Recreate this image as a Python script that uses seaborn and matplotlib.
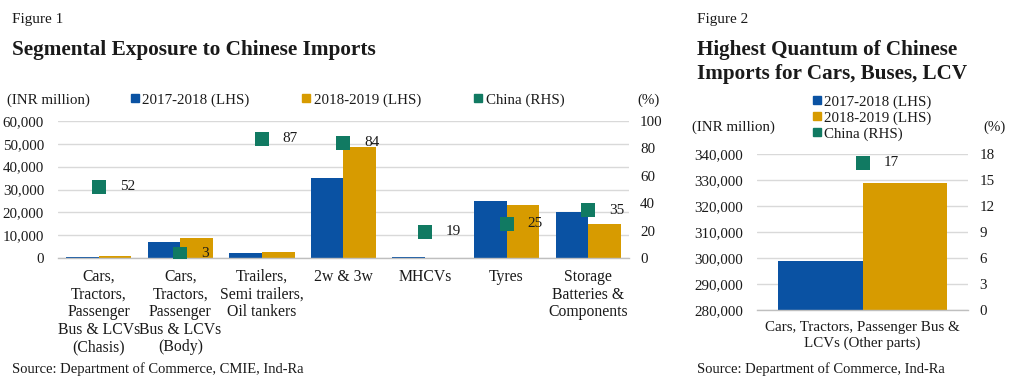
import matplotlib
matplotlib.use("Agg")
import matplotlib.pyplot as plt
from matplotlib.lines import Line2D
from matplotlib.ticker import FuncFormatter, MultipleLocator
import numpy as np
import pandas as pd
import seaborn as sns

# Figure 1 data
segments = [
    "Cars,\nTractors,\nPassenger\nBus & LCVs\n(Chasis)",
    "Cars,\nTractors,\nPassenger\nBus & LCVs\n(Body)",
    "Trailers,\nSemi trailers,\nOil tankers",
    "2w & 3w",
    "MHCVs",
    "Tyres",
    "Storage\nBatteries &\nComponents",
]
imports_fy18 = [300, 6900, 2000, 35000, 300, 25000, 20000]
imports_fy19 = [800, 8600, 2500, 48500, 200, 23000, 15000]
china_share = [52, 3, 87, 84, 19, 25, 35]

# Figure 2 data
other_parts = ["Cars, Tractors, Passenger Bus &\nLCVs (Other parts)"]
other_fy18 = [299000]
other_fy19 = [329000]
other_china = [17]

years = ["2017-2018 (LHS)", "2018-2019 (LHS)"]
china_label = "China (RHS)"

BLUE = "#0a52a3"
ORANGE = "#d79b00"
GREEN = "#117a62"
GRID = "#d9d9d9"
TXT = "#1a1a1a"

sns.set_theme(style="white")
plt.rcParams["font.family"] = ["Liberation Serif", "DejaVu Serif"]
plt.rcParams["font.size"] = 10.5
plt.rcParams["text.color"] = TXT


def long_table(cats, a, b):
    return pd.DataFrame({
        "segment": cats * 2,
        "value": a + b,
        "year": [years[0]] * len(cats) + [years[1]] * len(cats),
    })


def draw_panel(ax, cats, a, b, share, ylim, ystep, rlim, rstep,
               xlab_size, xlab_spacing):
    df = long_table(cats, a, b)
    sns.barplot(data=df, x="segment", y="value", hue="year", order=cats,
                palette=[BLUE, ORANGE], width=0.8, saturation=1, gap=0,
                linewidth=0, legend=False, ax=ax, zorder=2)
    ax.set_ylim(*ylim)
    ax.yaxis.set_major_locator(MultipleLocator(ystep))
    ax.yaxis.set_major_formatter(FuncFormatter(lambda v, _: f"{v:,.0f}"))
    ax.grid(axis="y", color=GRID, linewidth=1, zorder=0)
    ax.set_axisbelow(True)
    ax.set_xlabel("")
    ax.set_ylabel("")
    n = len(cats)
    ax.set_xlim(-0.5, n - 0.5)
    ax.set_xticks(np.arange(n))
    ax.set_xticklabels(cats, linespacing=xlab_spacing, fontsize=xlab_size)
    ax.set_xticks(np.arange(n + 1) - 0.5, minor=True)
    ax.tick_params(axis="x", which="major", length=0, pad=8, colors=TXT)
    ax.tick_params(axis="x", which="minor", length=5, color="#bfbfbf", direction="out")
    ax.tick_params(axis="y", length=0, pad=10, labelsize=10.8, colors=TXT)
    for s in ["top", "right", "left"]:
        ax.spines[s].set_visible(False)
    ax.spines["bottom"].set_color("#bfbfbf")
    ax.spines["bottom"].set_linewidth(1)

    ax2 = ax.twinx()
    ax2.scatter(np.arange(n), share, marker="s", s=115, color=GREEN,
                linewidth=0, zorder=5)
    for i, v in enumerate(share):
        ax2.annotate(f"{v}", (i, v), xytext=(15, 0), textcoords="offset points",
                     va="center", ha="left", fontsize=11, color=TXT)
    ax2.set_ylim(*rlim)
    ax2.yaxis.set_major_locator(MultipleLocator(rstep))
    ax2.tick_params(axis="y", length=0, pad=8, labelsize=10.8, colors=TXT)
    for s in ["top", "right", "left", "bottom"]:
        ax2.spines[s].set_visible(False)
    ax2.grid(False)
    return ax2


def legend_handles():
    return [
        Line2D([], [], marker="s", linestyle="", markersize=6, color=BLUE, label=years[0]),
        Line2D([], [], marker="s", linestyle="", markersize=6, color=ORANGE, label=years[1]),
        Line2D([], [], marker="s", linestyle="", markersize=6, color=GREEN, label=china_label),
    ]


fig = plt.figure(figsize=(10.24, 3.81), dpi=100)

# ---- Figure 1 ----
ax1 = fig.add_axes([0.0566, 0.3228, 0.5576, 0.3596])
draw_panel(ax1, segments, imports_fy18, imports_fy19, china_share,
           (0, 60000), 10000, (0, 100), 20, 11.3, 1.13)

fig.text(12 / 1024, 1 - 19 / 381, "Figure 1", fontsize=11, va="center", ha="left")
fig.text(12 / 1024, 1 - 50 / 381, "Segmental Exposure to Chinese Imports",
         fontsize=15.3, fontweight="bold", va="center", ha="left")
fig.text(7 / 1024, 1 - 100 / 381, "(INR million)", fontsize=10.8, va="center", ha="left")
fig.text(637 / 1024, 1 - 100 / 381, "(%)", fontsize=10.8, va="center", ha="left")
fig.legend(handles=legend_handles(), loc="center left",
           bbox_to_anchor=(130 / 1024, 1 - 100 / 381), ncol=3, frameon=False,
           fontsize=10.8, handlelength=0.6, handletextpad=0.2, columnspacing=3.5,
           borderaxespad=0, borderpad=0)
fig.text(12 / 1024, 1 - 369 / 381, "Source: Department of Commerce, CMIE, Ind-Ra",
         fontsize=10.5, va="center", ha="left")

# ---- Figure 2 ----
ax3 = fig.add_axes([0.7393, 0.1864, 0.2061, 0.4094])
draw_panel(ax3, other_parts, other_fy18, other_fy19, other_china,
           (280000, 340000), 10000, (0, 18), 3, 10.8, 1.25)

fig.text(697 / 1024, 1 - 19 / 381, "Figure 2", fontsize=11, va="center", ha="left")
fig.text(697 / 1024, 1 - 62 / 381, "Highest Quantum of Chinese\nImports for Cars, Buses, LCV",
         fontsize=15.2, fontweight="bold", va="center", ha="left", linespacing=1.25)
fig.text(692 / 1024, 1 - 127 / 381, "(INR million)", fontsize=10.8, va="center", ha="left")
fig.text(983 / 1024, 1 - 127 / 381, "(%)", fontsize=10.8, va="center", ha="left")
fig.legend(handles=legend_handles(), loc="upper left",
           bbox_to_anchor=(812 / 1024, 1 - 95 / 381), ncol=1, frameon=False,
           fontsize=10.8, handlelength=0.6, handletextpad=0.2, labelspacing=0.15,
           borderaxespad=0, borderpad=0)
fig.text(697 / 1024, 1 - 369 / 381, "Source: Department of Commerce, Ind-Ra",
         fontsize=10.5, va="center", ha="left")

fig.savefig("out.png", dpi=100)
